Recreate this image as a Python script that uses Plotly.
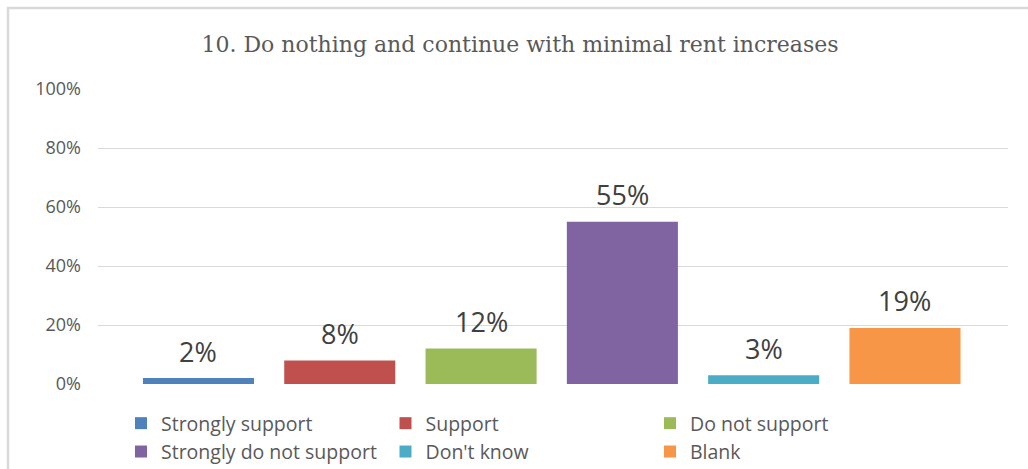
import plotly.graph_objects as go

# Survey responses for question 10
categories = ["Strongly support", "Support", "Do not support",
              "Strongly do not support", "Don't know", "Blank"]
shares = [2, 8, 12, 55, 3, 19]  # percent of respondents
colors = ["#4f81bd", "#c0504d", "#9bbb59", "#8064a2", "#4bacc6", "#f79646"]
y_ticks = [0, 20, 40, 60, 80, 100]
y_tick_labels = [f"{v}%" for v in y_ticks]

title_text = "10. Do nothing and continue with minimal rent increases"

fig = go.Figure()

for cat, val, col in zip(categories, shares, colors):
    fig.add_trace(go.Bar(
        x=[cat], y=[val], name=cat,
        marker=dict(color=col, line=dict(width=0)),
        width=0.786,
        hoverinfo="skip",
    ))

# Value labels above each bar
for cat, val in zip(categories, shares):
    fig.add_annotation(
        x=cat, y=val, text=f"{val}%",
        showarrow=False, yanchor="middle", yshift=27,
        font=dict(family="Open Sans", size=27, color="#404040"),
    )

# Outer chart frame
L, R, T, B = 98, 20, 89, 85
W, H = 1028, 469
pw, ph = W - L - R, H - T - B
fig.add_shape(
    type="rect", xref="paper", yref="paper",
    x0=(8 - L) / pw, x1=(W + 4 - L) / pw,
    y0=-(H + 4 - (H - B)) / ph, y1=1 + (T - 8) / ph,
    line=dict(color="#d9d9d9", width=2.5), fillcolor="rgba(0,0,0,0)",
    layer="below",
)

fig.update_layout(
    width=W, height=H,
    margin=dict(l=L, r=R, t=T, b=B, autoexpand=False),
    paper_bgcolor="white", plot_bgcolor="white",
    barmode="overlay",
    title=dict(
        text=title_text, x=520 / W, xanchor="center",
        y=1 - 44 / H, yanchor="middle",
        font=dict(family="DejaVu Serif", size=22, color="#595959"),
    ),
    xaxis=dict(
        type="category", categoryorder="array", categoryarray=categories,
        range=[-0.711, 5.729], showticklabels=False, showgrid=False,
        zeroline=False, showline=False, ticks="",
    ),
    yaxis=dict(
        range=[0, 100], tickvals=y_ticks, ticktext=y_tick_labels,
        showgrid=True, gridcolor="#d9d9d9", gridwidth=1,
        zeroline=False, showline=False, ticks="", ticklen=0,
        ticklabelstandoff=16,
        tickfont=dict(family="Open Sans", size=18, color="#595959"),
        automargin=False,
    ),
    legend=dict(
        orientation="h", x=(121 - L) / pw, xanchor="left",
        y=-(404 - (H - B)) / ph, yanchor="top",
        entrywidth=219.5, entrywidthmode="pixels",
        font=dict(family="Open Sans", size=19.5, color="#595959"),
        bgcolor="rgba(0,0,0,0)", traceorder="normal",
    ),
    showlegend=True,
)

fig.write_html("out.html")
